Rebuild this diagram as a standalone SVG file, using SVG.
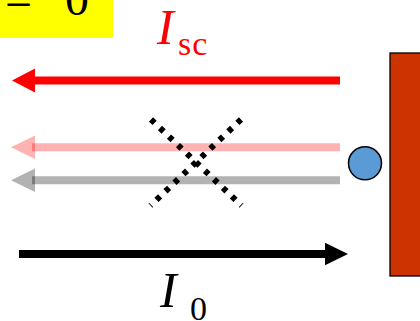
<svg xmlns="http://www.w3.org/2000/svg" width="420" height="321" viewBox="0 0 420 321">
<style>
.shaft{stroke-width:8;fill:none}
.cross{stroke:#000;stroke-width:6;stroke-dasharray:5 7.4;fill:none}
.serif{font-family:"Liberation Serif","Times New Roman","DejaVu Serif",serif}
</style>
<rect width="420" height="321" fill="#fff"/>
<g id="eq-label">
<rect x="0" y="0" width="113" height="38" fill="#ffff00"/>
<text class="serif" x="5" y="16" font-size="48">=</text>
<text class="serif" x="65" y="15" font-size="48">0</text>
</g>
<g id="isc-label" class="serif" fill="#ff0000">
<text x="157" y="44" font-size="50" font-style="italic">I</text>
<text x="178" y="55" font-size="34" letter-spacing="1">sc</text>
</g>
<g id="i0-label" class="serif" fill="#000">
<text x="160" y="307" font-size="50" font-style="italic">I</text>
<text x="190" y="320" font-size="34">0</text>
</g>
<g id="block">
<rect x="390" y="53" width="40" height="223" fill="#cc3300" stroke="#000" stroke-width="1.3"/>
</g>
<g id="particle">
<circle cx="365" cy="163.3" r="16.5" fill="#5b9bd5" stroke="#000" stroke-width="1.5"/>
</g>
<g id="connectors">
<g id="arrow-sc">
<line class="shaft" x1="34" y1="80.5" x2="340" y2="80.5" stroke="#ff0000"/>
<polygon points="12,80.5 35,68.5 35,92.5" fill="#ff0000"/>
</g>
<g id="arrow-pink">
<line class="shaft" x1="32" y1="147.3" x2="340" y2="147.3" stroke="#ff0000" stroke-opacity="0.3"/>
<polygon points="11,147.3 35,135.5 35,159.1" fill="#ff0000" fill-opacity="0.3"/>
</g>
<g id="arrow-gray">
<line class="shaft" x1="32" y1="180.2" x2="340" y2="180.2" stroke="#000" stroke-opacity="0.3"/>
<polygon points="11,180.2 35,168.4 35,192" fill="#000" fill-opacity="0.3"/>
</g>
<g id="arrow-i0">
<line class="shaft" x1="19" y1="254" x2="327" y2="254" stroke="#000"/>
<polygon points="348,254 325,242.8 325,265.2" fill="#000"/>
</g>
</g>
<g id="cross">
<line class="cross" x1="151" y1="119.5" x2="241.5" y2="205.5"/>
<line class="cross" x1="241" y1="119.5" x2="150.5" y2="205.5"/>
</g>
</svg>
